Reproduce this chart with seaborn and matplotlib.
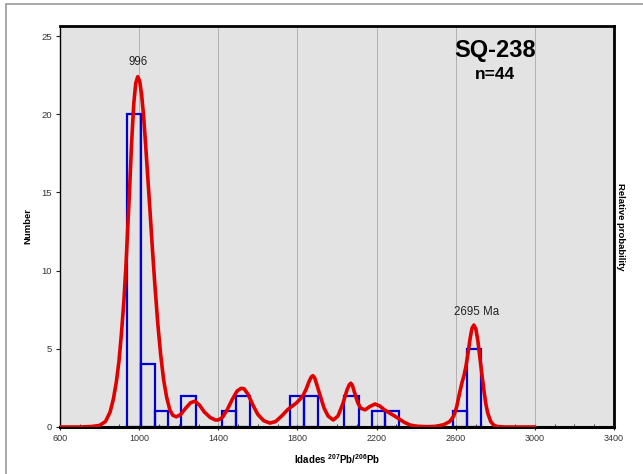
import matplotlib
matplotlib.use("Agg")
import matplotlib.pyplot as plt
from matplotlib.patches import Rectangle
from matplotlib.ticker import MultipleLocator
import pandas as pd
import seaborn as sns

# ---------------- data ----------------
bin_edges = [939, 1010, 1078, 1148, 1213, 1285, 1419, 1490, 1558, 1761, 1834,
             1902, 2034, 2109, 2175, 2243, 2313, 2587, 2655, 2727]
bin_counts = [20, 4, 1, 0, 2, 0, 1, 2, 0, 2, 2, 0, 2, 0, 1, 1, 0, 1, 5]

curve_age = [600, 700, 760, 800, 830, 853, 870, 885, 898, 910, 922, 932, 942,
             951, 962, 973, 983, 993, 1003, 1013, 1023, 1033, 1043, 1055,
             1068, 1080, 1095, 1109, 1124, 1139, 1155, 1170, 1188, 1210, 1235,
             1260, 1282, 1305, 1330, 1360, 1385, 1400, 1420, 1445, 1470, 1495,
             1515, 1530, 1550, 1575, 1600, 1630, 1661, 1690, 1720, 1750, 1775,
             1796, 1815, 1830, 1845, 1860, 1870, 1878, 1887, 1897, 1915, 1935,
             1955, 1981, 2005, 2030, 2050, 2062, 2070, 2078, 2090, 2105, 2120,
             2142, 2165, 2192, 2215, 2240, 2265, 2285, 2310, 2340, 2369, 2400,
             2453, 2500, 2540, 2570, 2590, 2605, 2620, 2632, 2642, 2652, 2662,
             2672, 2682, 2692, 2702, 2712, 2722, 2732, 2742, 2752, 2762, 2777,
             2792, 2810, 2850, 2900, 3000]
curve_prob = [0, 0, 0.03, 0.1, 0.35, 0.95, 1.8, 2.9, 4.2, 5.9, 7.9, 10.0, 12.6,
              15.0, 18.2, 20.7, 22.0, 22.4, 22.1, 21.2, 19.8, 18.0, 16.1, 13.8,
              11.2, 9.0, 6.5, 4.6, 3.0, 1.9, 1.1, 0.75, 0.65, 0.8, 1.2,
              1.55, 1.65, 1.4, 0.95, 0.6, 0.45, 0.45, 0.6, 1.1, 1.75, 2.3,
              2.47, 2.45, 2.1, 1.4, 0.8, 0.4, 0.25, 0.35, 0.7, 1.1, 1.35,
              1.55, 1.8, 2.05, 2.45, 2.95, 3.2, 3.28, 3.15, 2.75, 2.0, 1.2,
              0.7, 0.45, 0.7, 1.5, 2.35, 2.7, 2.8, 2.65, 2.15, 1.55, 1.2,
              1.1, 1.3, 1.47, 1.35, 1.1, 0.9, 0.75, 0.55, 0.3, 0.13, 0.05,
              0.02, 0.04, 0.15, 0.35, 0.7, 1.3, 2.2, 2.85, 3.3, 3.9, 4.7,
              5.6, 6.3, 6.52, 6.26, 5.5, 4.45, 3.4, 2.4, 1.5, 0.88, 0.35,
              0.12, 0.03, 0, 0, 0]

x_ticks = [600, 1000, 1400, 1800, 2200, 2600, 3000, 3400]
y_ticks = [0, 5, 10, 15, 20, 25]
sample_name = "SQ-238"
sample_n = "n=44"
peak_labels = ["996", "2695 Ma"]
peak_label_pos = [(996, 22.95), (2703, 6.95)]

# ---------------- style ----------------
sns.set_style("ticks")
plt.rcParams["font.family"] = ["Liberation Sans", "DejaVu Sans"]
plt.rcParams["mathtext.fontset"] = "custom"
plt.rcParams["mathtext.rm"] = "Liberation Sans:bold"
plt.rcParams["mathtext.bf"] = "Liberation Sans:bold"
plt.rcParams["mathtext.default"] = "bf"
plt.rcParams["text.color"] = "black"
plt.rcParams["axes.labelcolor"] = "black"

fig = plt.figure(figsize=(6.43, 4.74), dpi=100)
fig.patch.set_facecolor("white")
# outer chart-area frame
fig.patches.append(Rectangle((6 / 643, -0.05), 1.2, 1.05 - 4 / 474,
                             transform=fig.transFigure, fill=False,
                             edgecolor="#9a9a9a", linewidth=1.2, zorder=0))

ax = fig.add_axes([60 / 643, 47 / 474, 554 / 643, 401 / 474])
ax.set_facecolor("#e3e3e3")

centers = [(a + b) / 2 for a, b in zip(bin_edges[:-1], bin_edges[1:])]
hist_df = pd.DataFrame({"age": centers, "count": bin_counts})
sns.histplot(data=hist_df, x="age", weights="count", bins=bin_edges,
             fill=False, element="bars", color="#0000d0", linewidth=1.6,
             ax=ax, zorder=2)
for p in list(ax.patches):
    if p.get_height() == 0:
        p.remove()
    else:
        p.set_edgecolor("#0000d0")

curve_df = pd.DataFrame({"age": curve_age, "prob": curve_prob})
sns.lineplot(data=curve_df, x="age", y="prob", color="#e00000",
             linewidth=2.6, ax=ax, zorder=3, sort=False)

ax.set_xlim(600, 3400)
ax.set_ylim(0, 25.64)
ax.set_xticks(x_ticks)
ax.set_yticks(y_ticks)
ax.xaxis.set_minor_locator(MultipleLocator(100))
ax.tick_params(axis="x", which="major", direction="inout", length=4,
               width=0.8, labelsize=6.5, colors="#222222", pad=3)
ax.tick_params(axis="x", which="minor", direction="in", length=2.5,
               width=0.6, colors="#222222")
ax.tick_params(axis="y", which="major", direction="out", length=3,
               width=0.8, labelsize=6.8, colors="#222222", pad=3)
for lbl in ax.get_xticklabels() + ax.get_yticklabels():
    lbl.set_color("#333333")

for xv in x_ticks[1:-1]:
    ax.axvline(xv, color="#a8a8a8", linewidth=0.6, zorder=1)

for side, lw in [("left", 1.0), ("bottom", 2.2), ("right", 2.0), ("top", 2.0)]:
    ax.spines[side].set_visible(True)
    ax.spines[side].set_linewidth(lw)
    ax.spines[side].set_color("black")

ax.set_xlabel(r"Idades $^{207}$Pb/$^{206}$Pb", fontsize=7, fontweight="bold",
              labelpad=7)
ax.set_ylabel("Number", fontsize=6.8, fontweight="bold", labelpad=6)

ax2 = ax.twinx()
ax2.set_yticks([])
ax2.set_ylabel("Relative probability", fontsize=6.8, fontweight="bold",
               rotation=-90, labelpad=8)
for s in ax2.spines.values():
    s.set_visible(False)

ax.text(0.785, 0.94, sample_name, transform=ax.transAxes, ha="center",
        va="center", fontsize=17, fontweight="bold", color="black")
ax.text(0.785, 0.879, sample_n, transform=ax.transAxes, ha="center",
        va="center", fontsize=12.5, fontweight="bold", color="black")
for txt, (xp, yp) in zip(peak_labels, peak_label_pos):
    ax.text(xp, yp, txt, ha="center", va="bottom", fontsize=8.3,
            color="#222222")

fig.savefig("out.png", dpi=100, facecolor="white")
